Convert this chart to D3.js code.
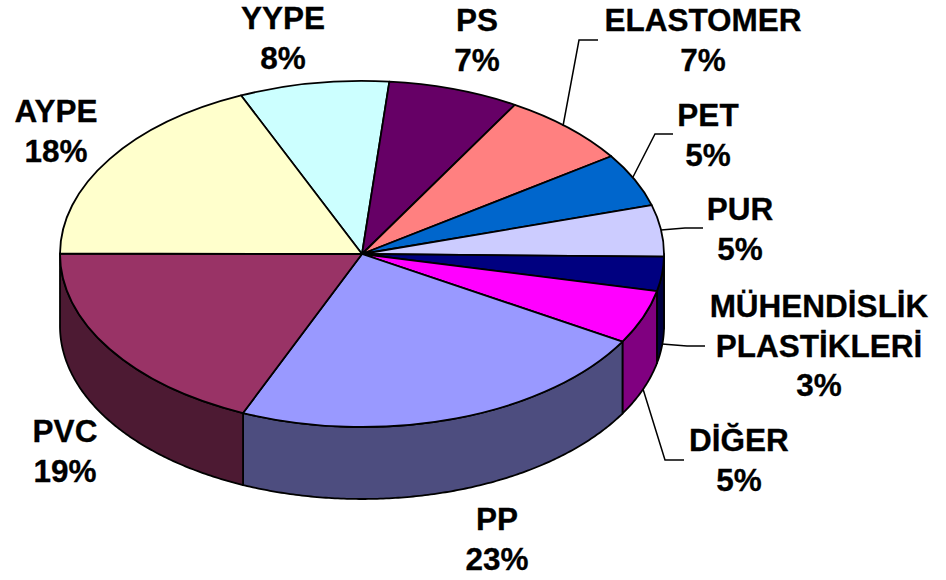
<!DOCTYPE html>
<meta http-equiv="Content-type" content="text/html; charset=UTF-8"/>
<style>
  html, body { margin: 0; background: #fff; }
  * { font-family: 'Liberation Sans', Arial, sans-serif }
</style>
<svg width="946" height="580"></svg>
<script src="https://d3js.org/d3.v7.min.js"></script>
<script>
// slices clockwise, starting at the AYPE/YYPE border
var categories = ["YYPE", "PS", "ELASTOMER", "PET", "PUR", "MÜHENDİSLİK\nPLASTİKLERİ", "DİĞER", "PP", "PVC", "AYPE"];
var values = [8, 7, 7, 5, 4.8, 3.2, 5, 23, 18.6, 18.4];
var topColors = ["#ccffff", "#660066", "#ff8080", "#0066cc", "#ccccff", "#000080", "#ff00ff", "#9999ff", "#993366", "#ffffcc"];
var sideColors = ["#66807f", "#330033", "#804040", "#003366", "#66667f", "#000040", "#800080", "#4d4d7f", "#4d1a33", "#80805f"];

// label anchor: centre x, first baseline
var labelX = [283, 477, 703, 708, 740, 819, 739, 497, 65, 56];
var labelY = [29, 31, 31, 126, 220, 317, 451, 530, 442, 122];

// leader lines, by category
var leaders = {
  "ELASTOMER": [[563, 126], [579, 40], [598, 40]],
  "PET": [[633, 177], [655, 134], [673, 134]],
  "PUR": [[661, 230], [685, 228], [703, 228]],
  "MÜHENDİSLİK\nPLASTİKLERİ": [[662, 344], [687, 346], [705, 346]],
  "DİĞER": [[643, 389], [665, 460], [684, 460]]
};

var svg = d3.select("svg"),
    cx = 362, cy = 254, rx = 302, ry = 173, depth = 72,
    lineH = 39.5;

var startAngle = -23.6 * Math.PI / 180;

var pie = d3.pie().sort(null).value(function(d) { return d; })
    .startAngle(startAngle)
    .endAngle(startAngle + 2 * Math.PI);
var arcs = pie(values);

var arc = d3.arc().innerRadius(0).outerRadius(rx);

// position on the rim, t clockwise from 12 o'clock
function rim(t, dy) {
  return [cx + rx * Math.sin(t), cy - ry * Math.cos(t) + dy];
}

var line = d3.line();

// side wall, only the part of a slice facing the viewer
function sidePath(d) {
  var a0 = Math.max(d.startAngle, Math.PI / 2),
      a1 = Math.min(d.endAngle, 3 * Math.PI / 2);
  if (a1 <= a0) return null;
  var ts = d3.range(a0, a1, 0.01).concat([a1]);
  var front = ts.map(function(t) { return rim(t, 0); }),
      back = ts.slice().reverse().map(function(t) { return rim(t, depth); });
  return line(front.concat(back)) + "Z";
}

svg.append("g").selectAll("path")
    .data(arcs.filter(sidePath))
  .enter().append("path")
    .attr("d", sidePath)
    .attr("fill", function(d) { return sideColors[d.index]; })
    .attr("stroke", "#000")
    .attr("stroke-width", 1.8)
    .attr("stroke-linejoin", "round");

svg.append("g")
    .attr("transform", "translate(" + cx + "," + cy + ") scale(1," + (ry / rx) + ")")
  .selectAll("path")
    .data(arcs)
  .enter().append("path")
    .attr("d", arc)
    .attr("fill", function(d) { return topColors[d.index]; })
    .attr("stroke", "#000")
    .attr("stroke-width", 1.8)
    .attr("stroke-linejoin", "round")
    .attr("vector-effect", "non-scaling-stroke");

svg.append("g").selectAll("path")
    .data(categories.filter(function(c) { return leaders[c]; }))
  .enter().append("path")
    .attr("d", function(c) { return line(leaders[c]); })
    .attr("fill", "none")
    .attr("stroke", "#000")
    .attr("stroke-width", 1.5);

var labels = svg.append("g").selectAll("text")
    .data(categories)
  .enter().append("text")
    .attr("text-anchor", "middle")
    .attr("font-weight", "bold")
    .attr("font-size", 31.5)
    .attr("fill", "#000")
    .attr("stroke", "#000")
    .attr("stroke-width", 0.3);

labels.each(function(c, i) {
  var rows = c.split("\n").concat([Math.round(values[i]) + "%"]);
  d3.select(this).selectAll("tspan")
      .data(rows)
    .enter().append("tspan")
      .attr("x", labelX[i])
      .attr("y", function(r, j) { return labelY[i] + j * lineH; })
      .text(function(r) { return r; });
});
</script>
